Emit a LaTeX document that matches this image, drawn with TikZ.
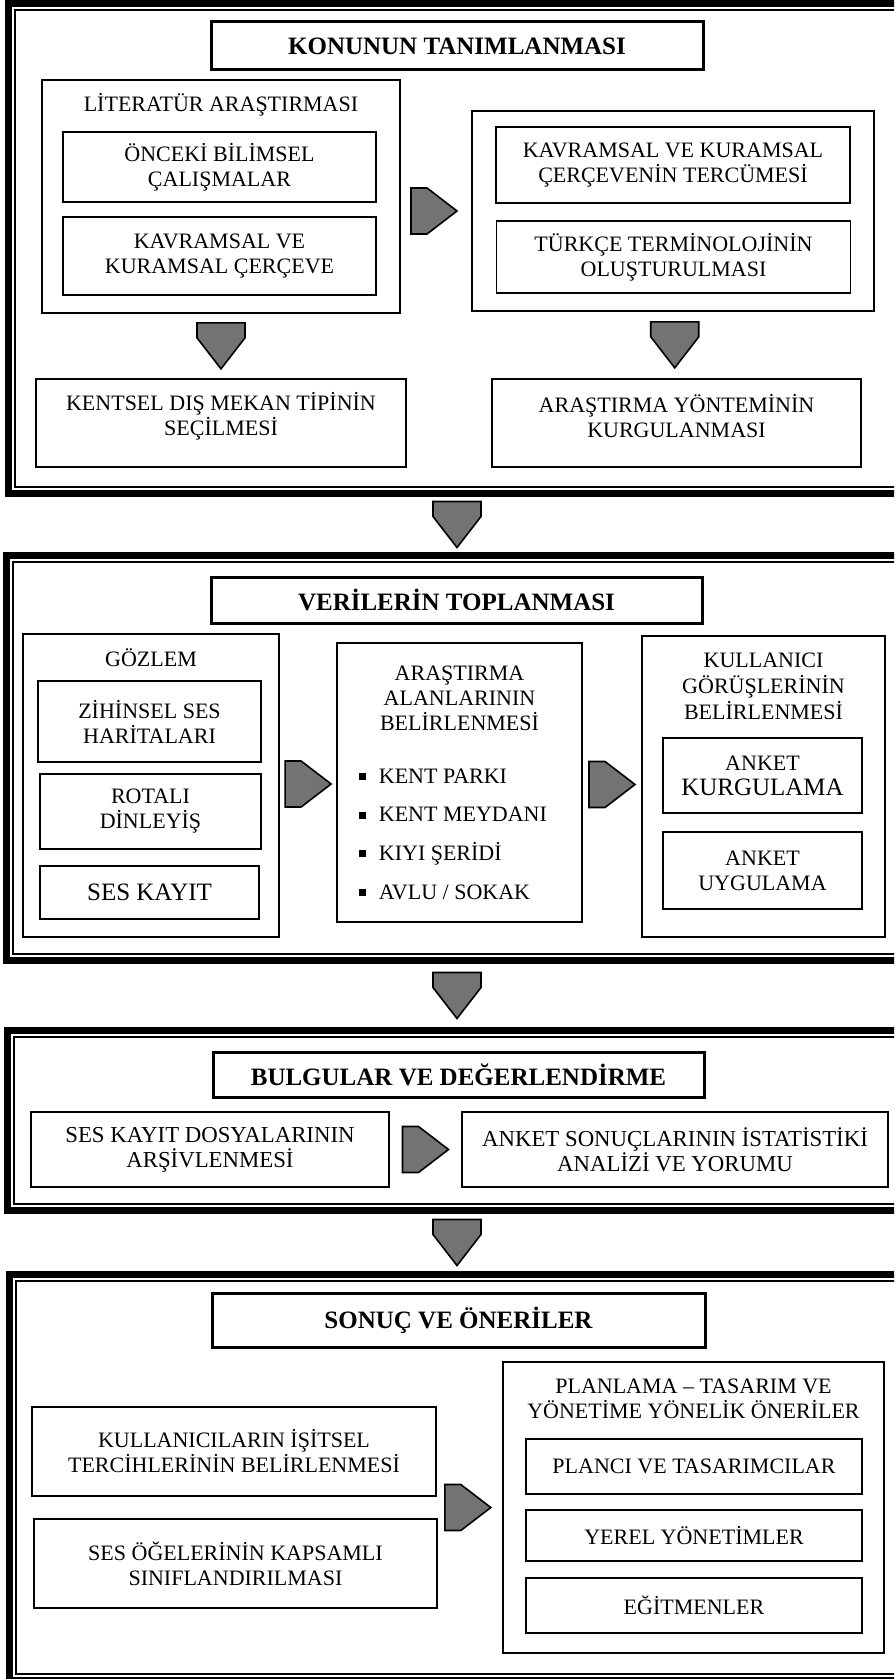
\documentclass[tikz,border=0pt]{standalone}
\usepackage{fontspec}
\setmainfont{Liberation Serif}
\definecolor{ArrowGray}{RGB}{115, 115, 115}
\usetikzlibrary{calc}
\newcommand{\sqbullet}{\raisebox{0.3ex}{\rule{3.5pt}{3.5pt}}\hspace{6.5pt}}

\begin{document}
\begin{tikzpicture}[x=0.5pt, y=-0.5pt,
  panelrule/.style={line width=3.5pt},
  innerrule/.style={line width=0.6pt},
  titlebox/.style={draw, line width=1.5pt, inner sep=0pt, font=\fontsize{12.5}{15}\selectfont\bfseries},
  groupbox/.style={draw, line width=1pt, inner sep=0pt},
  stagebox/.style={draw, line width=1.3pt, inner sep=0pt, align=center, font=\fontsize{11}{12.5}\selectfont},
  cellbox/.style={draw, line width=0.7pt, inner sep=0pt, align=center, font=\fontsize{11}{12.5}\selectfont},
  heading/.style={inner sep=0pt, align=center, font=\fontsize{11}{12.5}\selectfont},
  blockarrow/.style={draw, fill=ArrowGray, line width=0.8pt},
  rarr/.pic={\draw[blockarrow] (-23,-23) -- (-7,-23) -- (23,0) -- (-7,23) -- (-23,23) -- cycle;},
  darr/.pic={\draw[blockarrow] (-24,-23) -- (24,-23) -- (24,-8) -- (0,23) -- (-24,-8) -- cycle;}]
\useasboundingbox (0,0) rectangle (894,1679);
\clip (0,0) rectangle (894,1679);
\fill[white] (0,0) rectangle (894,1679);

\foreach \pt/\pb/\pl in {10/487/15, 562/954/13, 1037/1204/14, 1281/1674/16} {
  \draw[panelrule] (900,\pt-6.5) -- (\pl-6.5,\pt-6.5) -- (\pl-6.5,\pb+6.5) -- (900,\pb+6.5);
  \draw[innerrule] (900,\pt) -- (\pl,\pt) -- (\pl,\pb) -- (900,\pb);
}
\coordinate (p1bot) at (457,493.5);
\coordinate (p2top) at (457,555.5);
\coordinate (p2bot) at (457,960.5);
\coordinate (p3top) at (457,1030.5);
\coordinate (p3bot) at (457,1210.5);
\coordinate (p4top) at (457,1274.5);

\node[titlebox, minimum width=246pt, minimum height=24pt] (t1) at (457,46) {KONUNUN TANIMLANMASI};
\node[groupbox, minimum width=179pt, minimum height=116.5pt] (lit) at (221,196.5) {};
\node[heading] (lithd) at (221,105) {LİTERATÜR ARAŞTIRMASI};
\node[cellbox, minimum width=156.5pt, minimum height=35pt] (onc) at (219.5,167) {ÖNCEKİ BİLİMSEL\\ÇALIŞMALAR};
\node[cellbox, minimum width=156.5pt, minimum height=39pt] (kvr) at (219.5,256) {KAVRAMSAL VE\\KURAMSAL ÇERÇEVE};
\node[groupbox, minimum width=201pt, minimum height=100pt] (trc) at (673,211) {};
\node[cellbox, minimum width=177pt, minimum height=38pt] (ter) at (673,165) {KAVRAMSAL VE KURAMSAL\\ÇERÇEVENİN TERCÜMESİ};
\node[cellbox, minimum width=177pt, minimum height=36pt] (trk) at (673.5,257) {TÜRKÇE TERMİNOLOJİNİN\\OLUŞTURULMASI};
\node[stagebox, minimum width=185pt, minimum height=44pt] (kent) at (221,423) {};
\node[heading] (kenttx) at (221,416) {KENTSEL DIŞ MEKAN TİPİNİN\\SEÇİLMESİ};
\node[stagebox, minimum width=184.5pt, minimum height=44pt] (yon) at (676.5,423) {};
\node[heading] (yontx) at (676.5,416) {ARAŞTIRMA YÖNTEMİNİN\\KURGULANMASI};
\pic at ($(trc.west)+(-37,0)$) {rarr};
\pic at ($(lit.south)!0.5!(kent.north)$) {darr};
\pic at ($(trc.south)!0.5!(yon.north)$) {darr};

\pic at ($(p1bot)!0.5!(p2top)$) {darr};

\node[titlebox, minimum width=245.5pt, minimum height=23pt] (t2) at (456.5,600) {VERİLERİN TOPLANMASI};
\node[groupbox, line width=1.2pt, minimum width=128pt, minimum height=151.5pt] (goz) at (151,785.5) {};
\node[heading] (gozhd) at (151,658) {GÖZLEM};
\node[cellbox, minimum width=111.5pt, minimum height=40.5pt] (zih) at (149.5,721.5) {ZİHİNSEL SES\\HARİTALARI};
\node[cellbox, minimum width=110.5pt, minimum height=37.5pt] (rot) at (150.5,811.5) {ROTALI\\DİNLEYİŞ};
\node[cellbox, minimum width=109.5pt, minimum height=26.5pt, font=\fontsize{12.5}{14}\selectfont] (ses) at (149.5,892.5) {SES KAYIT};
\node[groupbox, minimum width=122.5pt, minimum height=139.5pt] (alan) at (459.5,782.5) {};
\node[heading] (alanhd) at (459.5,698) {ARAŞTIRMA\\ALANLARININ\\BELİRLENMESİ};
\node[heading, align=left, anchor=west, font=\fontsize{11}{19.3}\selectfont] (alanls) at (358.5,834) {\sqbullet KENT PARKI\\\sqbullet KENT MEYDANI\\\sqbullet KIYI ŞERİDİ\\\sqbullet AVLU / SOKAK};
\node[groupbox, minimum width=121.5pt, minimum height=150.5pt] (kul) at (763.5,786.5) {};
\node[heading, font=\fontsize{11}{13}\selectfont] (kulhd) at (763.5,686) {KULLANICI\\GÖRÜŞLERİNİN\\BELİRLENMESİ};
\node[cellbox, minimum width=99.5pt, minimum height=37.5pt] (akr) at (762.5,775.5) {ANKET\\{\fontsize{12.5}{14}\selectfont KURGULAMA}};
\node[cellbox, minimum width=99.5pt, minimum height=38.5pt] (auy) at (762.5,870.5) {ANKET\\UYGULAMA};
\pic at ($(goz.east)!0.5!(alan.west)$) {rarr};
\pic at ($(alan.east)!0.5!(kul.west)$) {rarr};

\pic at ($(p2bot)!0.5!(p3top)$) {darr};

\node[titlebox, minimum width=245.5pt, minimum height=22.5pt] (t3) at (458.5,1074.5) {BULGULAR VE DEĞERLENDİRME};
\node[stagebox, font=\fontsize{11.4}{12.5}\selectfont, minimum width=179pt, minimum height=37.5pt] (arsv) at (210,1149.5) {SES KAYIT DOSYALARININ\\ARŞİVLENMESİ};
\node[stagebox, font=\fontsize{11.4}{12.5}\selectfont, minimum width=213pt, minimum height=37.5pt] (ist) at (675,1149.5) {ANKET SONUÇLARININ İSTATİSTİKİ\\ANALİZİ VE YORUMU};
\pic at ($(arsv.east)!0.5!(ist.west)$) {rarr};

\pic at ($(p3bot)!0.5!(p4top)$) {darr};

\node[titlebox, minimum width=246.5pt, minimum height=27pt] (t4) at (458.5,1320) {SONUÇ VE ÖNERİLER};
\node[stagebox, minimum width=202pt, minimum height=44.5pt] (isit) at (234,1451.5) {KULLANICILARIN İŞİTSEL\\TERCİHLERİNİN BELİRLENMESİ};
\node[stagebox, minimum width=201.5pt, minimum height=44.5pt] (sog) at (235.5,1563.5) {SES ÖĞELERİNİN KAPSAMLI\\SINIFLANDIRILMASI};
\node[groupbox, line width=1.2pt, minimum width=190.5pt, minimum height=145.5pt] (plan) at (693.5,1507.5) {};
\node[heading] (planhd) at (693.5,1399) {PLANLAMA – TASARIM VE\\YÖNETİME YÖNELİK ÖNERİLER};
\node[cellbox, minimum width=168pt, minimum height=27.5pt] (pvt) at (694,1466.5) {PLANCI VE TASARIMCILAR};
\node[cellbox, minimum width=168pt, minimum height=25.5pt] (yyn) at (694,1535.5) {YEREL YÖNETİMLER};
\node[cellbox, minimum width=168pt, minimum height=27.5pt] (egt) at (694,1605.5) {EĞİTMENLER};
\pic at ($(plan.west)+(-34,0)$) {rarr};
\end{tikzpicture}
\end{document}
